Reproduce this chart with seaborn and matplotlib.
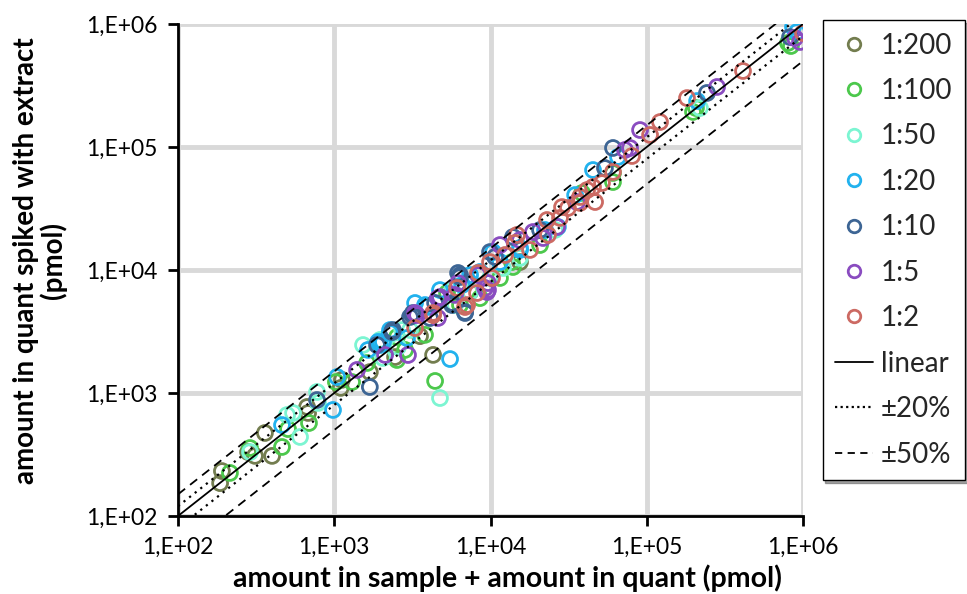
import numpy as np
import pandas as pd
import matplotlib
matplotlib.use("Agg")
import matplotlib.pyplot as plt
import seaborn as sns
from matplotlib.lines import Line2D
from matplotlib.ticker import FuncFormatter, NullLocator

# ---------------- data (pmol) ----------------
labels = ["1:200", "1:100", "1:50", "1:20", "1:10", "1:5", "1:2"]
colors = ["#737d4f", "#4cc84c", "#7cf5d2", "#22b2ee", "#3d6594", "#8a4cc0", "#cc6a63"]

x_1_200 = [186, 191, 281, 311, 400, 360, 670, 680, 1100, 1120, 1690, 2450, 4290, 3540, 7400, 15450]
y_1_200 = [185, 232, 331, 308, 308, 473, 770, 688, 1100, 1280, 1480, 1960, 2040, 2900, 6620, 11600]

x_1_100 = [215, 289, 463, 506, 689, 1025, 1300, 1622, 2520, 4420, 2840, 3810, 6380, 8570, 13930,
           11500, 20750, 60800, 60800, 197700, 206500, 801700, 837000,
           5270, 2520, 13700, 38550]
y_1_100 = [224, 357, 364, 509, 570, 1228, 1228, 1754, 1855, 1253, 2240, 2970, 5190, 5910, 10570,
           8610, 15960, 61500, 51900, 192800, 207500, 701500, 662000,
           6500, 2850, 11600, 42300]

x_1_50 = [289, 499, 545, 604, 776, 787, 1528, 2051, 4750, 1963, 3055, 5930, 7400, 9930, 15450,
          25870, 219000, 5680, 2720, 2560, 12020]
y_1_50 = [331, 662, 688, 439, 1019, 830, 2455, 1927, 910, 2700, 3250, 5190, 6620, 8610, 12530,
          21150, 207500, 6870, 3250, 2370, 10380]

x_1_20 = [463, 982, 1043, 1644, 1906, 5510, 3290, 3930, 2275, 4750, 6580, 8570, 11500, 15450,
          22340, 34800, 45300, 65500, 210000, 863000, 916000, 1963, 2275, 7400,
          3810, 2050, 2920, 27000, 10370, 15450]
y_1_20 = [549, 728, 1349, 2240, 2600, 1888, 5395, 5000, 3250, 6870, 7550, 9640, 11600, 14550,
          21150, 40700, 65000, 83000, 236600, 946000, 861000, 2455, 3080, 9100,
          5190, 2600, 2800, 22400, 14000, 15100]

x_1_10 = [776, 1690, 1879, 2345, 3190, 6870, 5680, 6200, 9930, 13930, 60800, 54000, 243000,
          826000, 4100, 20750, 3150, 6380, 2375, 4420, 5680, 6870, 6380, 3055, 10700]
y_1_10 = [877, 1119, 2455, 3130, 4470, 4470, 5395, 9460, 14000, 18540, 98200, 67450, 275000,
          783000, 4070, 21150, 4300, 9100, 3250, 5395, 5190, 4560, 8770, 4150, 12770]

x_1_5 = [2965, 1400, 3290, 4610, 9640, 11500, 18700, 26700, 90600, 281800, 72600, 78200,
         889000, 957000, 5930, 8320, 15450, 2115, 9500,
         4750, 9230, 6200, 9640, 3390, 4610, 21700, 35800]
y_1_5 = [2037, 1540, 4470, 5910, 6870, 15960, 20360, 22390, 137400, 307600, 94600, 98200,
         769000, 714000, 6270, 9100, 17540, 2037, 6620,
         6030, 7140, 7830, 7830, 4300, 4070, 18200, 35700]

x_1_2 = [3290, 4290, 6870, 8200, 8320, 10230, 9930, 14790, 17900, 23330, 28700, 37400, 46700,
         51700, 413000, 181000, 121600, 105000, 80500, 60800, 1000000, 23000, 12400, 4290,
         7080, 6110, 27860, 31300, 37400, 45300, 41500, 14350]
y_1_2 = [3375, 4300, 5000, 6500, 9460, 8610, 11600, 19280, 14550, 19280, 32500, 35100, 35700,
         50900, 415000, 250000, 159600, 125300, 84500, 62700, 845000, 25500, 13250, 4470,
         5190, 7140, 26500, 31900, 39200, 47300, 44700, 16600]

xs = [x_1_200, x_1_100, x_1_50, x_1_20, x_1_10, x_1_5, x_1_2]
ys = [y_1_200, y_1_100, y_1_50, y_1_20, y_1_10, y_1_5, y_1_2]

line_x = [1e2, 1e6]
tick_vals = [1e2, 1e3, 1e4, 1e5, 1e6]

df = pd.concat([pd.DataFrame({"x": x, "y": y, "dilution": lab})
                for x, y, lab in zip(xs, ys, labels)], ignore_index=True)

# ---------------- figure ----------------
sns.set_theme(style="white")
plt.rcParams["font.family"] = ["Lato", "DejaVu Sans"]

fig = plt.figure(figsize=(9.67, 5.94), dpi=100)
ax = fig.add_axes([178 / 967, 78 / 594, 625 / 967, 492 / 594])

for lab, col in zip(labels, colors):
    sub = df[df["dilution"] == lab]
    sns.scatterplot(data=sub, x="x", y="y", ax=ax, s=115, marker="o",
                    color=col, legend=False, zorder=3)
    coll = ax.collections[-1]
    coll.set_facecolor("none")
    coll.set_edgecolor(col)
    coll.set_linewidth(2.0)

lx = np.array(line_x)
sns.lineplot(x=lx, y=lx, ax=ax, color="black", lw=1.3, zorder=4)
sns.lineplot(x=lx, y=lx * 1.2, ax=ax, color="black", lw=1.6, linestyle=(0, (1, 2.2)), zorder=4)
sns.lineplot(x=lx, y=lx * 0.8, ax=ax, color="black", lw=1.6, linestyle=(0, (1, 2.2)), zorder=4)
sns.lineplot(x=lx, y=lx * 1.5, ax=ax, color="black", lw=1.3, linestyle=(0, (5, 3.5)), zorder=4)
sns.lineplot(x=lx, y=lx * 0.5, ax=ax, color="black", lw=1.3, linestyle=(0, (5, 3.5)), zorder=4)

ax.set_xscale("log")
ax.set_yscale("log")
ax.set_xlim(tick_vals[0], tick_vals[-1])
ax.set_ylim(tick_vals[0], tick_vals[-1])
ax.set_xticks(tick_vals)
ax.set_yticks(tick_vals)
ax.xaxis.set_minor_locator(NullLocator())
ax.yaxis.set_minor_locator(NullLocator())
fmt = FuncFormatter(lambda v, p: "1,E+%02d" % int(round(np.log10(v))))
ax.xaxis.set_major_formatter(fmt)
ax.yaxis.set_major_formatter(fmt)

ax.grid(True, which="major", color="#d9d9d9", linewidth=3.5)
ax.set_axisbelow(True)
for s in ["top", "right"]:
    ax.spines[s].set_visible(False)
for s in ["left", "bottom"]:
    ax.spines[s].set_color("black")
    ax.spines[s].set_linewidth(2)
ax.tick_params(axis="both", which="major", direction="out", length=7, width=2,
               color="black", labelsize=16.5, labelcolor="black", pad=8,
               left=True, bottom=True)

ax.set_xlabel("amount in sample + amount in quant (pmol)", fontsize=20.5,
              fontweight="bold", color="black")
ax.set_ylabel("amount in quant spiked with extract\n(pmol)", fontsize=20,
              fontweight="bold", color="black", linespacing=1.0)
ax.xaxis.set_label_coords(0.527, -0.098)
ax.yaxis.set_label_coords(-0.178, 0.52)

handles = [Line2D([], [], marker="o", linestyle="none", markerfacecolor="none",
                  markeredgecolor=c, markeredgewidth=2.0, markersize=9) for c in colors]
handles += [Line2D([], [], color="black", lw=1.3),
            Line2D([], [], color="black", lw=1.6, linestyle=(0, (1, 1.5))),
            Line2D([], [], color="black", lw=1.3, linestyle=(0, (4, 3)))]
leg_labels = labels + ["linear", "±20%", "±50%"]
leg = fig.legend(handles, leg_labels, loc="upper right",
                 bbox_to_anchor=(965 / 967, 1 - 20 / 594), frameon=True,
                 fancybox=False, shadow=True, edgecolor="black", fontsize=20,
                 labelspacing=0.70, handlelength=1.35, handletextpad=0.3,
                 borderpad=0.45, borderaxespad=0)
leg.get_frame().set_linewidth(1.0)

fig.savefig("out.png", dpi=100)
